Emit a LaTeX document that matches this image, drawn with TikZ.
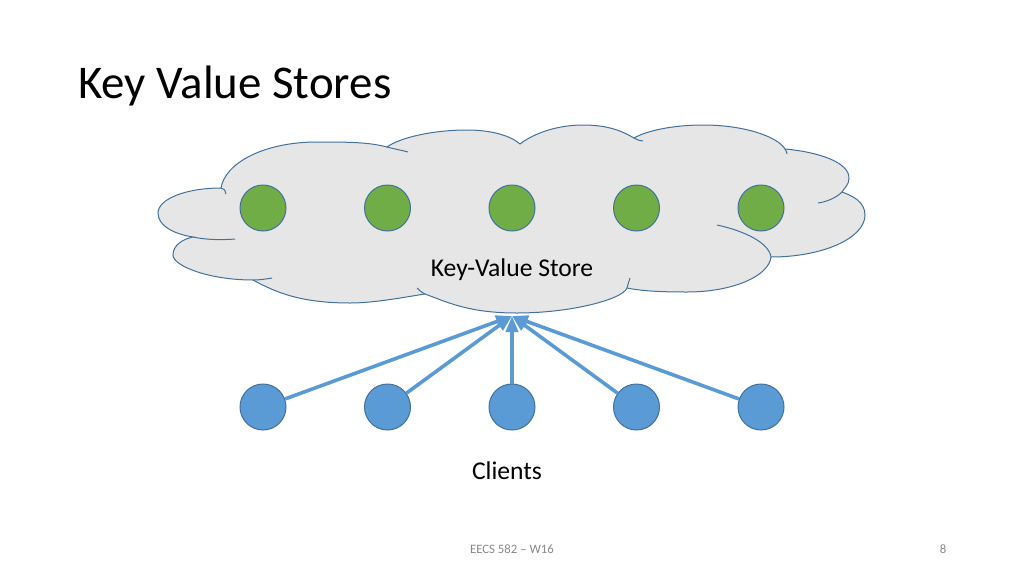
\documentclass[tikz,border=0pt]{standalone}
\usepackage{fontspec}
\setmainfont{Carlito}
\usetikzlibrary{arrows.meta}

\definecolor{cloudfill}{HTML}{E7E6E6}
\definecolor{edge}{HTML}{41719C}
\definecolor{kvgreen}{HTML}{70AD47}
\definecolor{kvblue}{HTML}{5B9BD5}
\definecolor{footgray}{HTML}{898989}

\begin{document}
\begin{tikzpicture}[x=1pt, y=1pt,
  lobe/.style={draw=edge, line width=1pt},
  server/.style={circle, fill=kvgreen, draw=edge, line width=1pt, minimum size=46pt, inner sep=0pt},
  client/.style={circle, fill=kvblue, draw=edge, line width=1pt, minimum size=46pt, inner sep=0pt},
  link/.style={kvblue, line width=3.6pt, -{Triangle[length=16pt, width=12pt]}}]

\fill[white] (0, 0) rectangle (1024, -576);
\useasboundingbox (0, 0) rectangle (1024, -576);

\filldraw[lobe, fill=cloudfill] (221, -188)
  .. controls (225, -163) and (264, -142) .. (317, -142)
  .. controls (347, -142) and (368, -142) .. (387, -147)
  .. controls (399, -138) and (432, -130) .. (467, -130)
  .. controls (492, -130) and (511, -136) .. (520, -144)
  .. controls (530, -136) and (553, -125) .. (583, -125)
  .. controls (608, -125) and (622, -131) .. (634, -138)
  .. controls (646, -131) and (672, -125) .. (703, -125)
  .. controls (745, -125) and (778, -137) .. (785, -149)
  .. controls (818, -152) and (849, -162) .. (849, -178)
  .. controls (849, -185) and (845, -187) .. (842, -192)
  .. controls (853, -196) and (865, -202) .. (865, -215)
  .. controls (865, -238) and (823, -257) .. (771, -257)
  .. controls (769, -276) and (733, -292) .. (687, -292)
  .. controls (660, -292) and (642, -291) .. (627, -288)
  .. controls (623, -299) and (572, -313) .. (517, -313)
  .. controls (470, -313) and (449, -303) .. (425, -294)
  .. controls (405, -297) and (375, -303) .. (350, -303)
  .. controls (300, -303) and (275, -292) .. (253, -280)
  .. controls (209, -280) and (173, -266) .. (173, -255)
  .. controls (173, -245) and (183, -239) .. (193, -237)
  .. controls (174, -234) and (158, -226) .. (158, -213)
  .. controls (158, -199) and (186, -188) .. (221, -188) -- cycle;

\draw[lobe] (221, -188) .. controls (224, -188) and (226, -191) .. (226, -194);
\draw[lobe] (193, -237) .. controls (207, -240) and (222, -240) .. (235, -239);
\draw[lobe] (253, -280) .. controls (260, -280) and (266, -279) .. (272, -278);
\draw[lobe] (387, -147) .. controls (394, -149) and (401, -150) .. (408, -152);
\draw[lobe] (634, -138) .. controls (638, -140) and (640, -141) .. (643, -141);
\draw[lobe] (785, -149) .. controls (786, -151) and (787, -152) .. (787, -154);
\draw[lobe] (842, -192) .. controls (836, -198) and (826, -202) .. (818, -203);
\draw[lobe] (717, -225) .. controls (745, -231) and (769, -243) .. (771, -257);
\draw[lobe] (627, -288) .. controls (628, -284) and (629, -281) .. (630, -278);
\draw[lobe] (425, -294) .. controls (421, -292) and (419, -290) .. (417, -288);

\node[server] (s1) at (263, -208) {};
\node[server] (s2) at (387.5, -208) {};
\node[server] (s3) at (512, -208) {};
\node[server] (s4) at (636.5, -208) {};
\node[server] (s5) at (761, -208) {};

\node[font=\fontsize{25.6}{30}\selectfont, anchor=base] (store) at (512, -276.7) {Key-Value Store};

\coordinate (hub) at (512, -316);

\node[client] (c1) at (263, -407) {};
\node[client] (c2) at (387.5, -407) {};
\node[client] (c3) at (512, -407) {};
\node[client] (c4) at (636.5, -407) {};
\node[client] (c5) at (761, -407) {};

\draw[link] (c1) -- (hub);
\draw[link] (c2) -- (hub);
\draw[link] (c3) -- (hub);
\draw[link] (c4) -- (hub);
\draw[link] (c5) -- (hub);

\node[font=\fontsize{25.6}{30}\selectfont, anchor=base] (clients) at (507, -479) {Clients};

\node[font=\fontsize{46.9}{56}\selectfont, anchor=base west, inner sep=0pt] (title) at (78, -98.3) {Key Value Stores};

\node[font=\fontsize{12.8}{15}\selectfont, text=footgray, anchor=base] (foot) at (512, -553) {EECS 582 – W16};
\node[font=\fontsize{12.8}{15}\selectfont, text=footgray, anchor=base] (page) at (943, -553) {8};

\end{tikzpicture}
\end{document}
